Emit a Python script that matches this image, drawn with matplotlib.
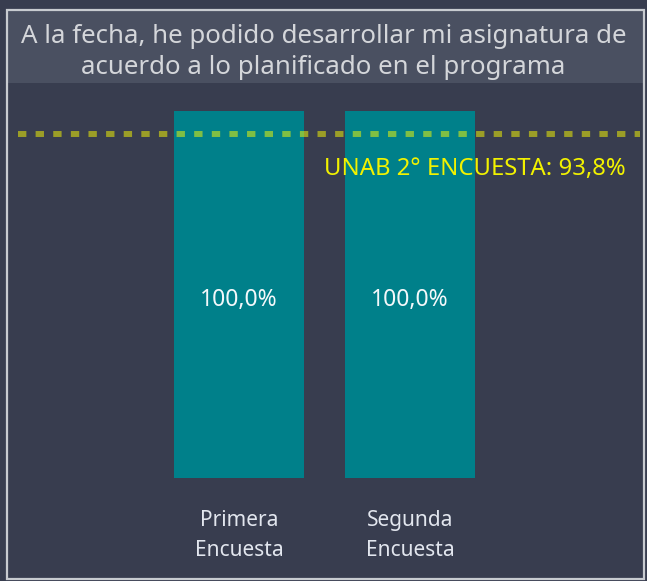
import matplotlib.pyplot as plt
from matplotlib.patches import Rectangle

plt.rcParams["font.family"] = ["Noto Sans", "DejaVu Sans"]

# data
categories = ["Primera\nEncuesta", "Segunda\nEncuesta"]
values = [100.0, 100.0]
benchmark = 93.8
benchmark_label = "UNAB 2° ENCUESTA: 93,8%"
title = "A la fecha, he podido desarrollar mi asignatura de\nacuerdo a lo planificado en el programa"

BG = "#383d4f"
TITLE_BG = "#4a5061"
BAR = "#00808a"

W, H = 647, 581
fig = plt.figure(figsize=(W / 100, H / 100), dpi=100)
fig.patch.set_facecolor(BG)

# title box + outer frame
fig.patches.append(Rectangle((7 / W, 1 - 83 / H), 637 / W, 73 / H, transform=fig.transFigure,
                             facecolor=TITLE_BG, edgecolor="none", zorder=0))
fig.patches.append(Rectangle((7 / W, 2 / H), 637 / W, 1 - 12 / H, transform=fig.transFigure,
                             facecolor="none", edgecolor="#c8cbd0", lw=1.6, zorder=5))
fig.text(0.5, 1 - 52 / H, title, ha="center", va="center", fontsize=18.6,
         color="#d4d6da", linespacing=1.36)

ax = fig.add_axes([18 / W, 1 - 478 / H, 622 / W, 367 / H])
ax.set_facecolor("none")
x = list(range(len(categories)))
bars = ax.bar(x, values, width=0.76, color=BAR, zorder=1)
for b, v in zip(bars, values):
    ax.text(b.get_x() + b.get_width() / 2, v / 2 - 1.5, f"{v:.1f}%".replace(".", ","),
            ha="center", va="center", fontsize=16.5, color="#f4f8fa")

ax.axhline(benchmark, color="yellow", alpha=0.5, lw=4.3, linestyle=(0, (1.4, 1.55)),
           dash_capstyle="butt", zorder=3)
ax.text(2.26, benchmark - 9.5, benchmark_label, ha="right", va="center",
        fontsize=17.2, color="#f2f200")

ax.set_xlim(-1.292, 2.345)
ax.set_ylim(0, 100)
ax.set_xticks(x)
ax.set_xticklabels(categories, fontsize=15, color="#e2e6ee", linespacing=1.58)
ax.tick_params(axis="x", length=0, pad=23)
ax.set_yticks([])
for s in ax.spines.values():
    s.set_visible(False)

fig.savefig("out.png", dpi=100, facecolor=BG)
